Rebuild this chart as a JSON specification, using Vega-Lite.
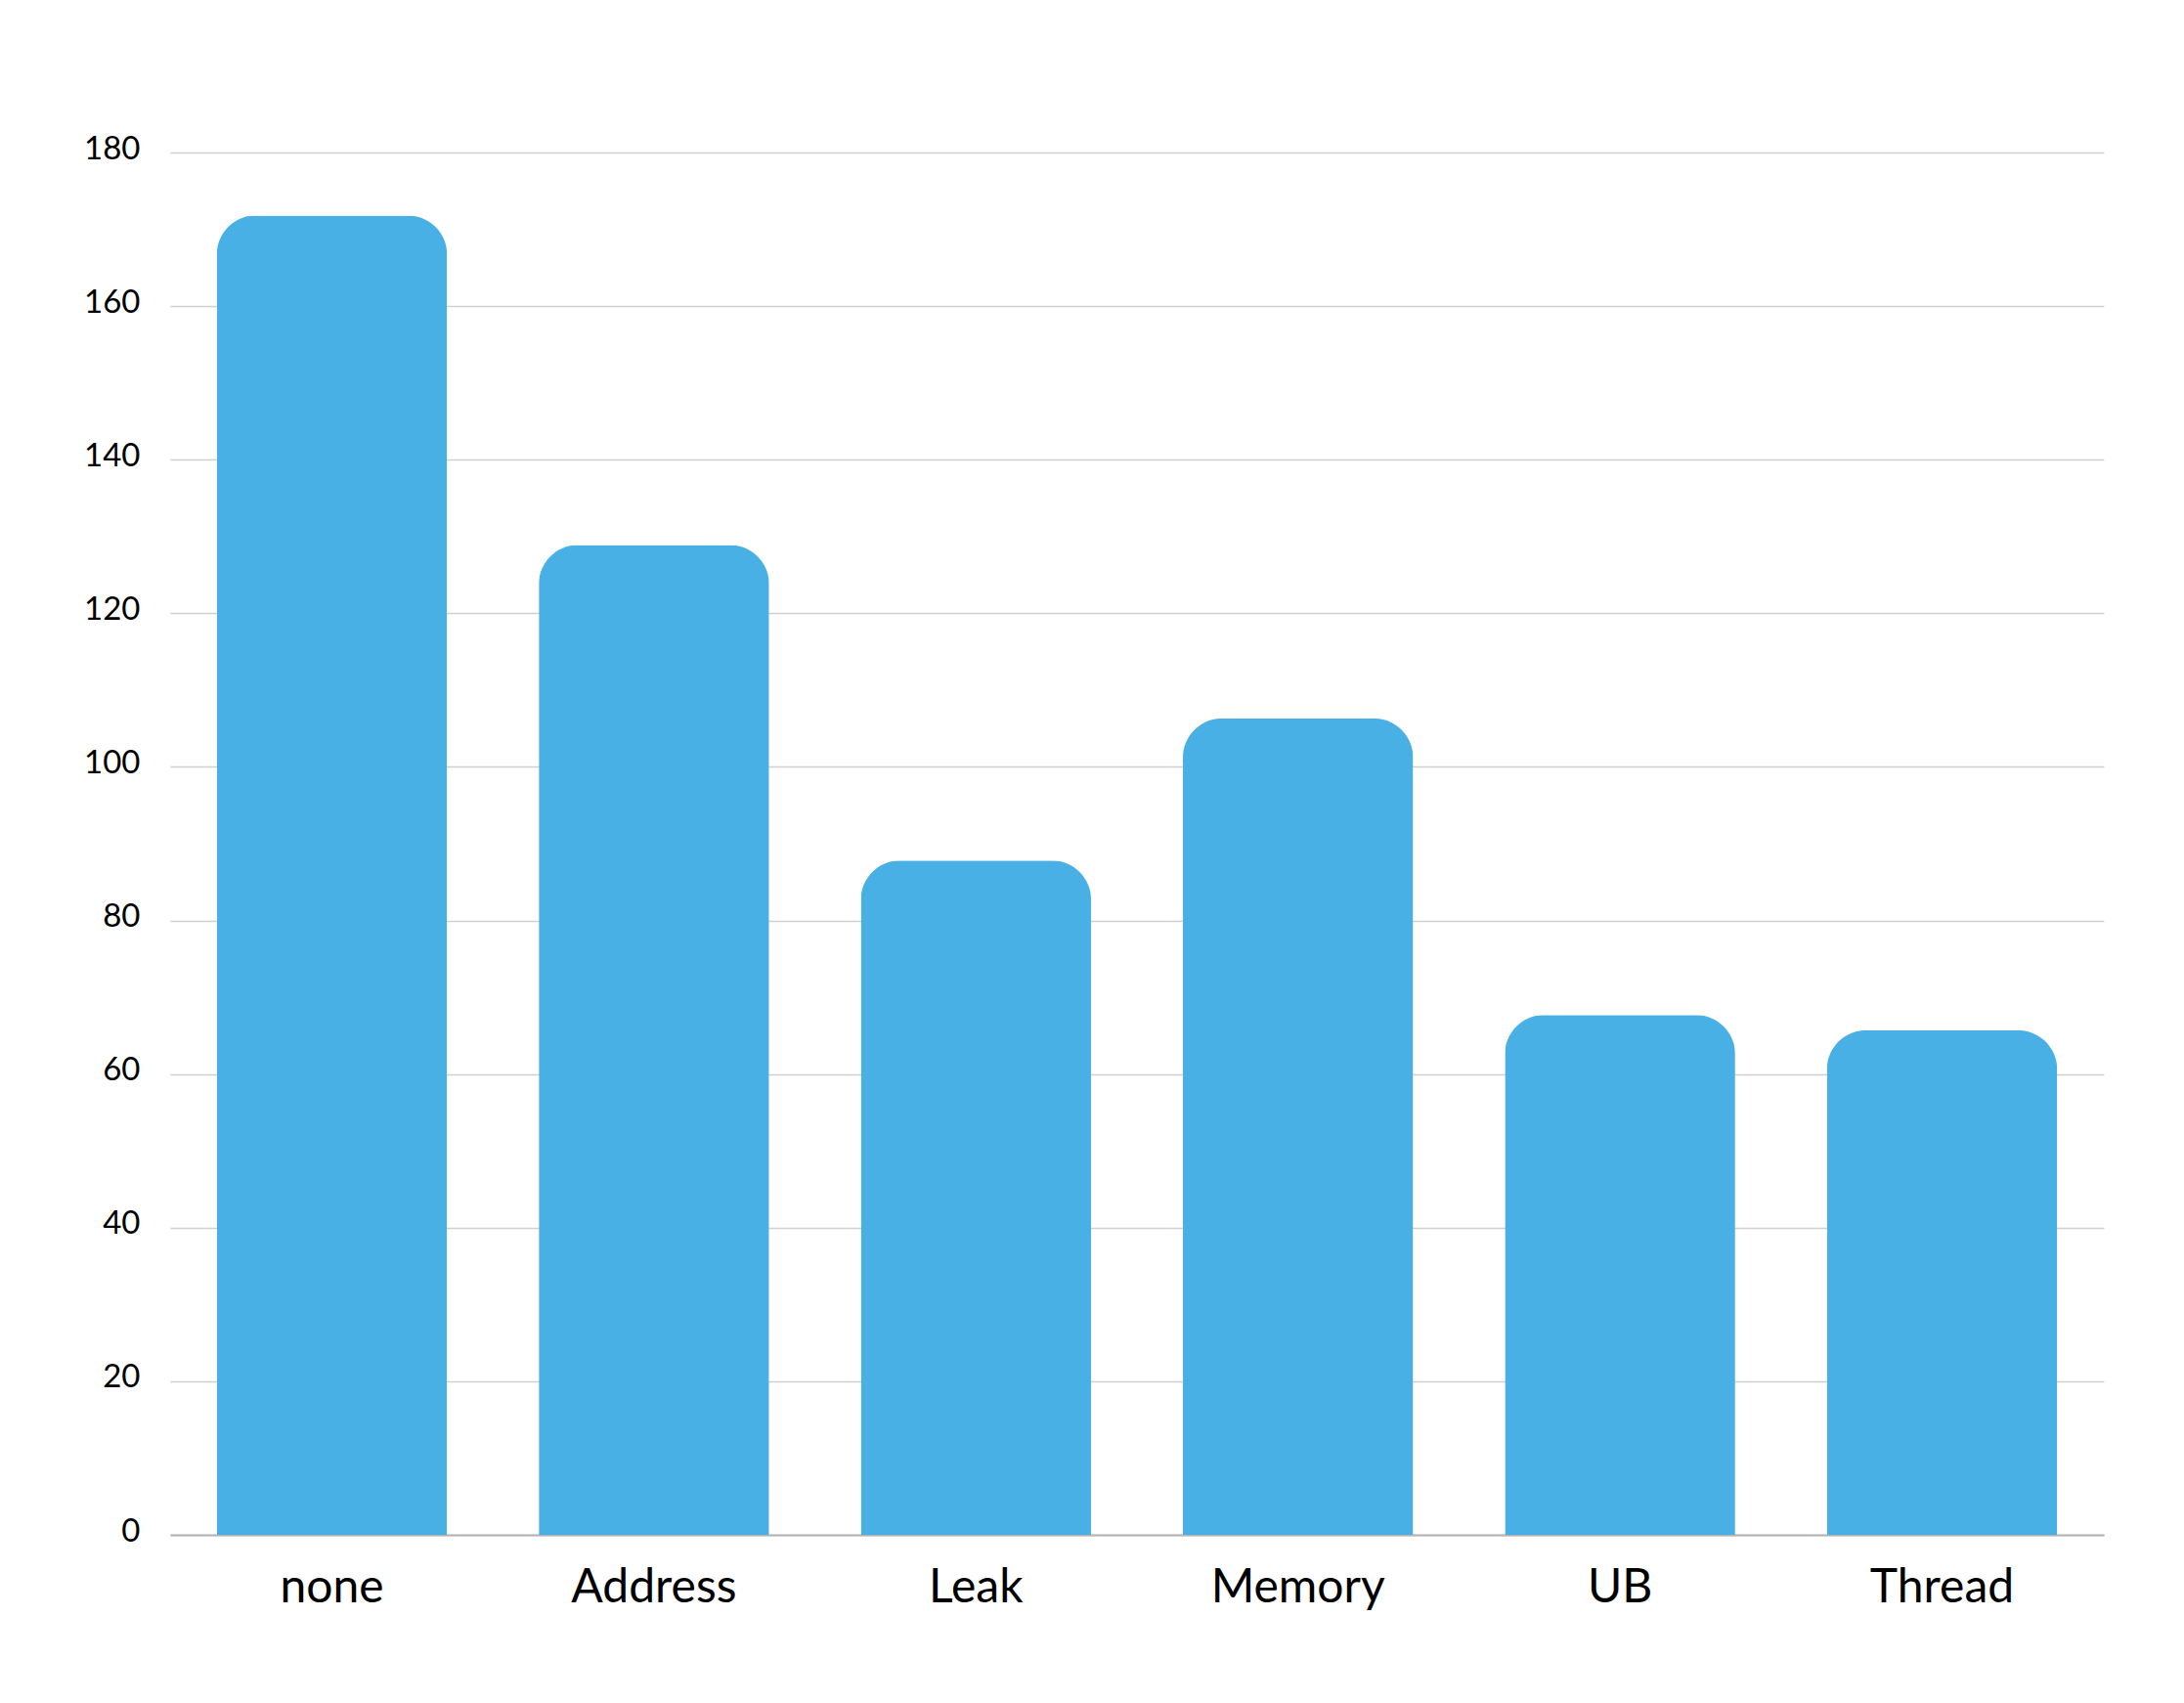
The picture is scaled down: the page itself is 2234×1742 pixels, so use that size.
{
  "$schema": "https://vega.github.io/schema/vega-lite/v6.json",
  "autosize": {"type": "none"},
  "padding": {"left": 174, "top": 156, "right": 82, "bottom": 172},
  "width": 1978,
  "height": 1414,
  "background": "white",
  "data": {
    "values": [
      {"sanitizer": "none", "value": 171.8},
      {"sanitizer": "Address", "value": 128.9},
      {"sanitizer": "Leak", "value": 87.8},
      {"sanitizer": "Memory", "value": 106.3},
      {"sanitizer": "UB", "value": 67.7},
      {"sanitizer": "Thread", "value": 65.7}
    ]
  },
  "config": {
    "view": {"stroke": null},
    "font": "Lato"
  },
  "mark": {
    "type": "bar",
    "color": "#49B0E6",
    "cornerRadiusTopLeft": 40,
    "cornerRadiusTopRight": 40
  },
  "encoding": {
    "x": {
      "field": "sanitizer",
      "type": "nominal",
      "sort": null,
      "scale": {"paddingInner": 0.285, "paddingOuter": 0.145},
      "axis": {
        "title": null,
        "labelAngle": 0,
        "labelFont": "Lato",
        "labelFontSize": 48,
        "labelColor": "#000000",
        "labelPadding": 30,
        "ticks": false,
        "domain": true,
        "domainColor": "#B3B3B3",
        "domainWidth": 2,
        "grid": false
      }
    },
    "y": {
      "field": "value",
      "type": "quantitative",
      "scale": {"domain": [0, 180], "nice": false},
      "axis": {
        "title": null,
        "values": [0, 20, 40, 60, 80, 100, 120, 140, 160, 180],
        "labelFont": "Lato",
        "labelFontSize": 33,
        "labelColor": "#000000",
        "labelPadding": 31,
        "labelOffset": -4,
        "ticks": false,
        "domain": false,
        "grid": true,
        "gridColor": "#D3CFD1",
        "gridWidth": 1.5
      }
    }
  }
}
